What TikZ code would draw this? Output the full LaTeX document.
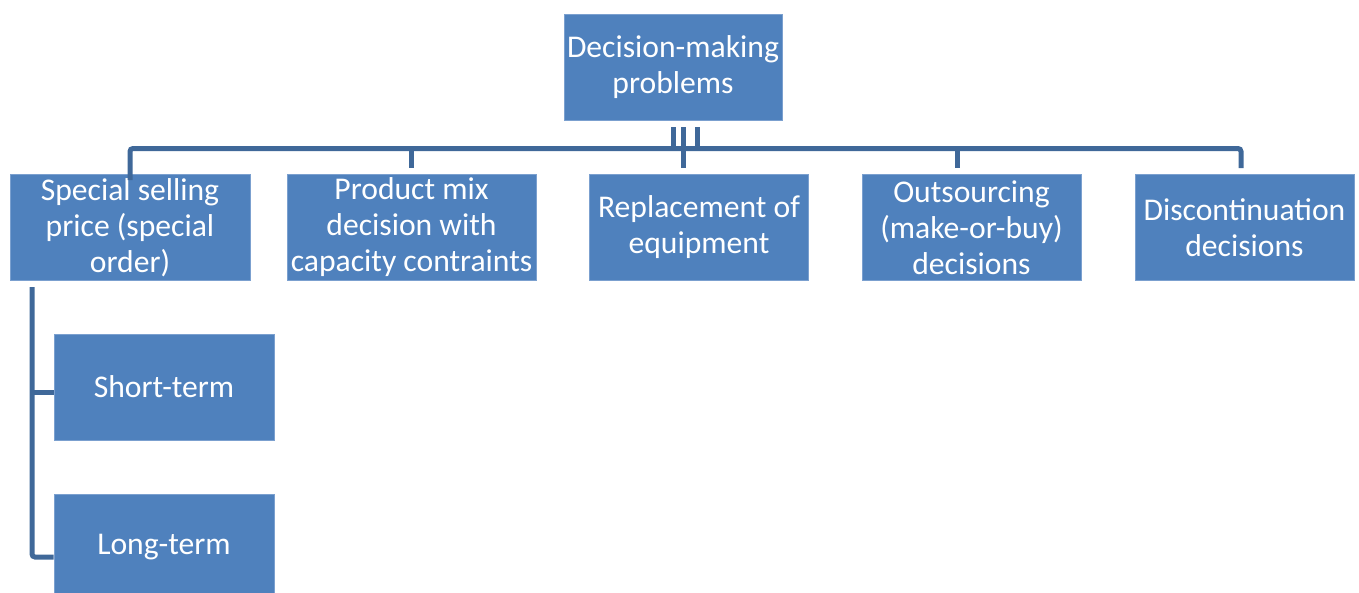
\documentclass[tikz,border=0pt]{standalone}
\usepackage{fontspec}
\setmainfont{Carlito}
\begin{document}
\definecolor{boxfill}{HTML}{4F81BD}
\definecolor{boxedge}{HTML}{7BA0CF}
\definecolor{linkcol}{HTML}{3F6899}
\begin{tikzpicture}[x=0.02cm,y=-0.02cm,
  card/.style={rectangle,fill=boxfill,draw=boxedge,line width=0.4pt,
    text=white,align=center,inner sep=0pt,
    font=\fontsize{18}{20.5}\selectfont},
  link/.style={draw=linkcol,line width=0.1cm,rounded corners=0.06cm}]
\useasboundingbox (0,0) rectangle (1359,592);

% root
\node[card,minimum width=218*0.02cm,minimum height=106*0.02cm] (root) at (673,67)
  {Decision-making\\problems};

% first level
\node[card,minimum width=240*0.02cm,minimum height=106*0.02cm] (sp) at (130,227.5)
  {Special selling\\price (special\\order)};
\node[card,minimum width=249*0.02cm,minimum height=106*0.02cm] (pm) at (411.5,227.5)
  {Product mix\\decision with\\capacity contraints};
\node[card,minimum width=219*0.02cm,minimum height=106*0.02cm] (re) at (699,227.5)
  {Replacement of\\equipment};
\node[card,minimum width=219*0.02cm,minimum height=106*0.02cm] (os) at (971.5,227.5)
  {Outsourcing\\(make-or-buy)\\decisions};
\node[card,minimum width=219*0.02cm,minimum height=106*0.02cm] (dc) at (1244.5,227.5)
  {Discontinuation\\decisions};

% second level under the special order
\node[card,minimum width=220*0.02cm,minimum height=106*0.02cm] (st) at (164,387)
  {Short-term};
\node[card,minimum width=220*0.02cm,minimum height=106*0.02cm] (lt) at (164,547)
  {Long-term};

% bus below the root
\coordinate (busL) at (130,148.5);
\coordinate (busR) at (1241,148.5);
\draw[link] ([yshift=-6*0.02cm]sp.north) -- (busL) -- (busR) -- (1241,168);
\draw[link] (411.5,148.5) -- (411.5,168);
\draw[link] (957,148.5) -- (957,168);
\draw[link] (683.5,127) -- (683.5,168);
\draw[link] (673.5,127) -- (673.5,150);
\draw[link] (697,127) -- (697,150);

% bracket to the sub-items
\coordinate (brTop) at (32,287);
\draw[link] (brTop) -- (32,557) -- (lt.west |- 0,557);
\draw[link] (32,392) -- (st.west |- 0,392);
\end{tikzpicture}
\end{document}
